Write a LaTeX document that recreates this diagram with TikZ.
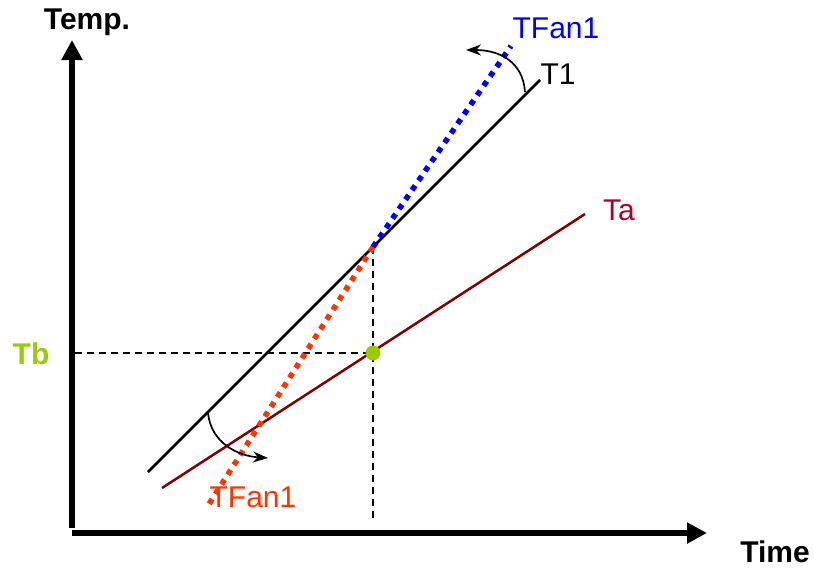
\documentclass[tikz,border=0pt]{standalone}
\usepackage{fontspec}
\setmainfont{Liberation Sans}
\usepackage{xcolor}
\usepackage{tikz}
\usetikzlibrary{arrows.meta}
\definecolor{figline}{RGB}{0,0,0}
\definecolor{figfan}{RGB}{0,0,255}
\definecolor{figfanlow}{RGB}{255,51,0}
\definecolor{figamb}{RGB}{128,0,0}
\definecolor{figambtxt}{RGB}{175,0,40}
\definecolor{figtb}{RGB}{153,204,0}
\tikzset{
  ax/.style    ={draw=figline, line width=6pt, -{Triangle[length=20pt,width=20pt]}},
  ln/.style    ={line width=2.5pt},
  dsh/.style   ={draw=figline, line width=1.4pt, dash pattern=on 7pt off 5pt},
  dotln/.style ={line width=5.5pt, dash pattern=on 5.5pt off 6pt, line cap=butt},
  turnarr/.style ={draw=figline, line width=1.7pt, -{Stealth[length=15pt,width=11pt]}},
  lab/.style   ={font=\fontsize{30}{34}\selectfont, inner sep=0pt},
  labb/.style  ={font=\fontsize{30}{34}\selectfont\bfseries, inner sep=0pt},
}
\begin{document}
\begin{tikzpicture}[x=1pt,y=-1pt]
  \useasboundingbox (0,0) rectangle (814,568);
  % axes
  \coordinate (orgy) at (72,528);
  \coordinate (topy) at (72,40);
  \coordinate (orgx) at (72,533);
  \coordinate (endx) at (707,533);
  \draw[ax] (orgy) -- (topy);
  \draw[ax] (orgx) -- (endx);
  \node[labb] (temp) at (87,22) {Temp.};
  \node[labb] (time) at (775,552) {Time};
  % lines
  \coordinate (ts) at (148,472);
  \coordinate (te) at (540,80);
  \coordinate (as) at (162,488);
  \coordinate (ae) at (585,214);
  \coordinate (cross) at (373,247);
  \coordinate (tb) at (373,353);
  \coordinate (tbl) at (75,353);
  \coordinate (tbd) at (373,520);
  \coordinate (fanhi) at (511,46);
  \coordinate (fanlo) at (209,504);
  \draw[dsh] (tbl) -- (tb);
  \draw[dsh] (cross) -- (tbd);
  \draw[ln,draw=figline] (ts) -- (te);
  \draw[ln,draw=figamb] (as) -- (ae);
  \draw[dotln,draw=figfan] (cross) -- (fanhi);
  \draw[dotln,draw=figfanlow] (cross) -- (fanlo);
  \fill[figtb] (tb) circle (7.5);
  % turning arrows
  \coordinate (rothi) at (525,92);
  \coordinate (rothie) at (466,50);
  \coordinate (rotlo) at (208,413);
  \coordinate (rotloe) at (268,458);
  \draw[turnarr] (rothi) .. controls (523,62) and (500,50) .. (rothie);
  \draw[turnarr] (rotlo) .. controls (211,443) and (238,456) .. (rotloe);
  % labels
  \node[lab,text=figfan] (lfanhi) at (556,28) {TFan1};
  \node[lab,text=figline] (lt1) at (558,74) {T1};
  \node[lab,text=figambtxt] (lta) at (619,210) {Ta};
  \node[labb,text=figtb] (ltb) at (31,354) {Tb};
  \node[lab,text=figfanlow] (lfanlo) at (253,497) {TFan1};
\end{tikzpicture}
\end{document}
